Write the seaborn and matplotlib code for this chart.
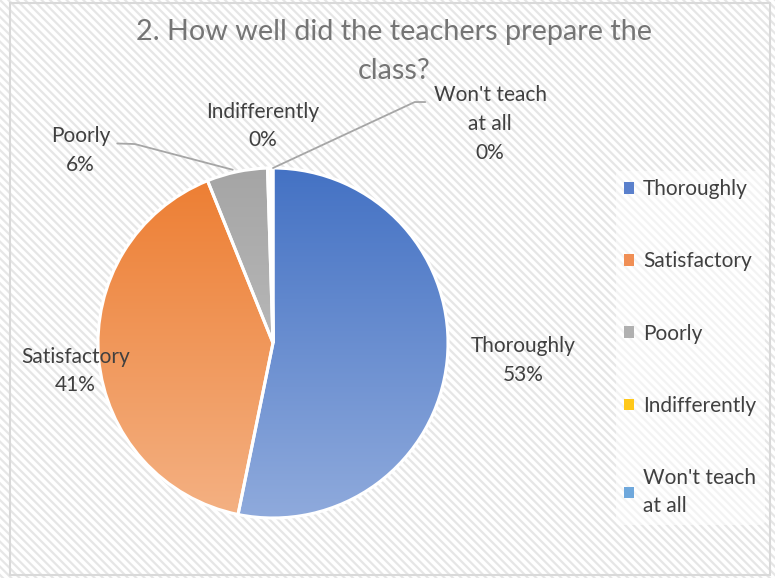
import numpy as np
import matplotlib
matplotlib.use("Agg")
import matplotlib.pyplot as plt
from matplotlib.patches import Rectangle, Patch
from matplotlib.colors import LinearSegmentedColormap
import seaborn as sns

# data
categories = ["Thoroughly", "Satisfactory", "Poorly", "Indifferently", "Won't teach\nat all"]
shares = [53.2, 40.7, 5.6, 0.3, 0.2]
top_colors = ["#4472C4", "#ED7D31", "#A5A5A5", "#FFC000", "#5B9BD5"]
bottom_colors = ["#8FAADC", "#F4B183", "#C9C9C9", "#FFD966", "#9DC3E6"]
legend_colors = ["#5A80CC", "#F08F55", "#B0B0B0", "#FFC81A", "#6FA8DC"]

sns.set_theme(style="white")
plt.rcParams["font.family"] = ["Lato", "DejaVu Sans"]
plt.rcParams["hatch.linewidth"] = 1.6

fig = plt.figure(figsize=(7.75, 5.78), dpi=100)

# striped background + border
bg = Rectangle((0, 0), 1, 1, transform=fig.transFigure, facecolor="white",
               edgecolor="#e6e6e6", hatch="\\\\\\\\", linewidth=0, zorder=-10)
fig.patches.append(bg)
border = Rectangle((10 / 775, 3 / 578), 760 / 775, 572 / 578, transform=fig.transFigure,
                   facecolor="none", edgecolor="#d9d9d9", linewidth=1.5, zorder=-5)
fig.patches.append(border)

# pie axes: centre (273, 343) px, radius 175 px
cx, cy, r = 273, 343, 175
ax = fig.add_axes([(cx - r) / 775, (578 - cy - r) / 578, 2 * r / 775, 2 * r / 578])
ax.patch.set_visible(False)

wedges, _ = ax.pie(shares, startangle=90, counterclock=False, radius=1,
                   wedgeprops=dict(edgecolor="white", linewidth=2.2))
ax.set_xlim(-1, 1)
ax.set_ylim(-1, 1)
ax.set_aspect("equal")
ax.axis("off")

grad = np.linspace(0, 1, 256).reshape(-1, 1)
for w, c0, c1 in zip(wedges, top_colors, bottom_colors):
    cmap = LinearSegmentedColormap.from_list("g", [c0, c1])
    im = ax.imshow(grad, cmap=cmap, extent=(-1, 1, -1, 1), origin="upper",
                   aspect="auto", zorder=1)
    im.set_clip_path(w)
    w.set_facecolor("none")
    w.set_zorder(2)

# data labels
label_color = "#404040"
label_pos = [(1.43, -0.10), (-1.13, -0.16), (-1.10, 1.10), (-0.06, 1.24), (1.24, 1.25)]
for name, v, (lx, ly) in zip(categories, shares, label_pos):
    ax.text(lx, ly, f"{name}\n{round(v)}%", ha="center", va="center", fontsize=15,
            color=label_color, linespacing=1.55)

# leader lines
line_kw = dict(color="#a6a6a6", linewidth=1.3, clip_on=False, zorder=3)
ax.plot([-0.89, -0.79, -0.23], [1.14, 1.137, 0.99], **line_kw)
ax.plot([0.0, 0.81, 0.87], [1.0, 1.377, 1.377], **line_kw)

# title
fig.text(0.508, 0.945, "2. How well did the teachers prepare the", ha="center", va="center",
         fontsize=20.7, color="#757575")
fig.text(0.508, 0.877, "class?", ha="center", va="center", fontsize=20.7, color="#757575")

# legend
handles = [Patch(facecolor=c, edgecolor="none") for c in legend_colors]
leg = fig.legend(handles, categories, loc="upper left", bbox_to_anchor=(616 / 775, 1 - 171 / 578),
                 frameon=True, fontsize=15, labelspacing=2.5, handlelength=0.45,
                 handleheight=0.45, handletextpad=0.45, borderpad=0.4, borderaxespad=0)
leg.get_frame().set_facecolor("white")
leg.get_frame().set_alpha(0.55)
leg.get_frame().set_edgecolor("none")
for t in leg.get_texts():
    t.set_color(label_color)
    t.set_linespacing(1.55)

fig.savefig("out.png", dpi=100)
